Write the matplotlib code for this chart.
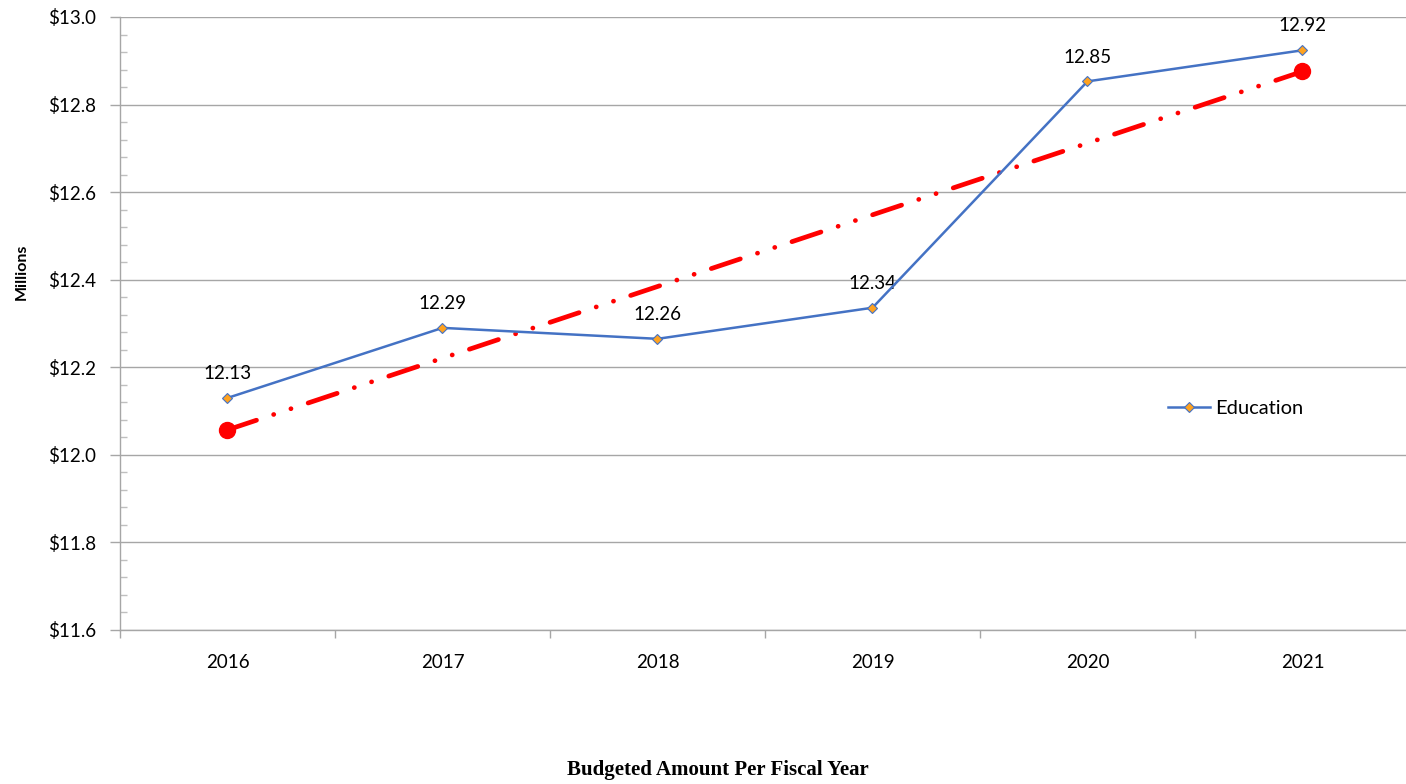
import numpy as np
import matplotlib
matplotlib.use("Agg")
import matplotlib.pyplot as plt
from matplotlib.ticker import MultipleLocator, FuncFormatter

years = ["2016", "2017", "2018", "2019", "2020", "2021"]
education = [12.13, 12.29, 12.265, 12.336, 12.853, 12.924]
value_labels = ["12.13", "12.29", "12.26", "12.34", "12.85", "12.92"]

plt.rcParams["font.family"] = ["Lato", "DejaVu Sans"]
plt.rcParams["lines.scale_dashes"] = False

fig = plt.figure(figsize=(14.06, 7.84), dpi=100)
ax = fig.add_axes([120 / 1406, 1 - 630 / 784, 1290 / 1406, (630 - 17) / 784])

x = np.arange(len(years))

# Linear trend over the series
slope, intercept = np.polyfit(x, education, 1)
trend = intercept + slope * x[[0, -1]]
ax.plot(x[[0, -1]], trend, color="#FF0000", lw=3.4,
        linestyle=(0, (22, 13, 0.1, 13, 0.1, 13)),
        dash_capstyle="round", solid_capstyle="round", zorder=3)
ax.plot(x[[0, -1]], trend, "o", color="#FF0000", markersize=11.5, zorder=4)

ax.plot(x, education, color="#4472C4", lw=1.8, marker="D", markersize=5.5,
        markerfacecolor="#FFA21F", markeredgecolor="#4472C4",
        markeredgewidth=0.8, label="Education", zorder=5)

for xi, yi, lab in zip(x, education, value_labels):
    ax.annotate(lab, (xi, yi), xytext=(0, 17.5), textcoords="offset points",
                ha="center", va="center", fontsize=13.5, color="#000000")

ax.set_xlim(-0.5, len(years) - 0.5)
ax.set_ylim(11.6, 13.0)

ax.set_xticks(x)
ax.set_xticklabels(years)
ax.set_xticks(np.arange(-0.5, len(years)), minor=True)
ax.tick_params(axis="x", which="major", length=0, pad=17, labelsize=13.5)
ax.tick_params(axis="x", which="minor", length=6, direction="out",
               color="#A6A6A6", width=1)

ax.yaxis.set_major_locator(MultipleLocator(0.2))
ax.yaxis.set_minor_locator(MultipleLocator(0.04))
ax.yaxis.set_major_formatter(FuncFormatter(lambda v, p: f"${v:.1f}"))
ax.tick_params(axis="y", which="major", length=7, direction="out",
               color="#A6A6A6", width=1, pad=10, labelsize=13.5)
ax.tick_params(axis="y", which="minor", length=5, direction="in",
               color="#BFBFBF", width=1)

ax.grid(axis="y", which="major", color="#A6A6A6", lw=1)
ax.set_axisbelow(True)
for side in ("top", "right"):
    ax.spines[side].set_visible(False)
for side in ("left", "bottom"):
    ax.spines[side].set_color("#A6A6A6")
    ax.spines[side].set_linewidth(1)

ax.legend(loc="center left", bbox_to_anchor=((1168 - 120) / 1290, 1 - (408 - 17) / 613),
          frameon=False, fontsize=14.5, handlelength=2.1, handletextpad=0.25,
          borderaxespad=0, borderpad=0)

fig.text(22 / 1406, 1 - 272 / 784, "Millions", rotation=90, ha="center",
         va="center", fontsize=11.5, fontweight="bold")
fig.text(718 / 1406, 1 - 770 / 784, "Budgeted Amount Per Fiscal Year",
         ha="center", va="center", fontsize=15, fontweight="bold",
         family=["Liberation Serif", "DejaVu Serif"])

fig.savefig("out.png", dpi=100)
